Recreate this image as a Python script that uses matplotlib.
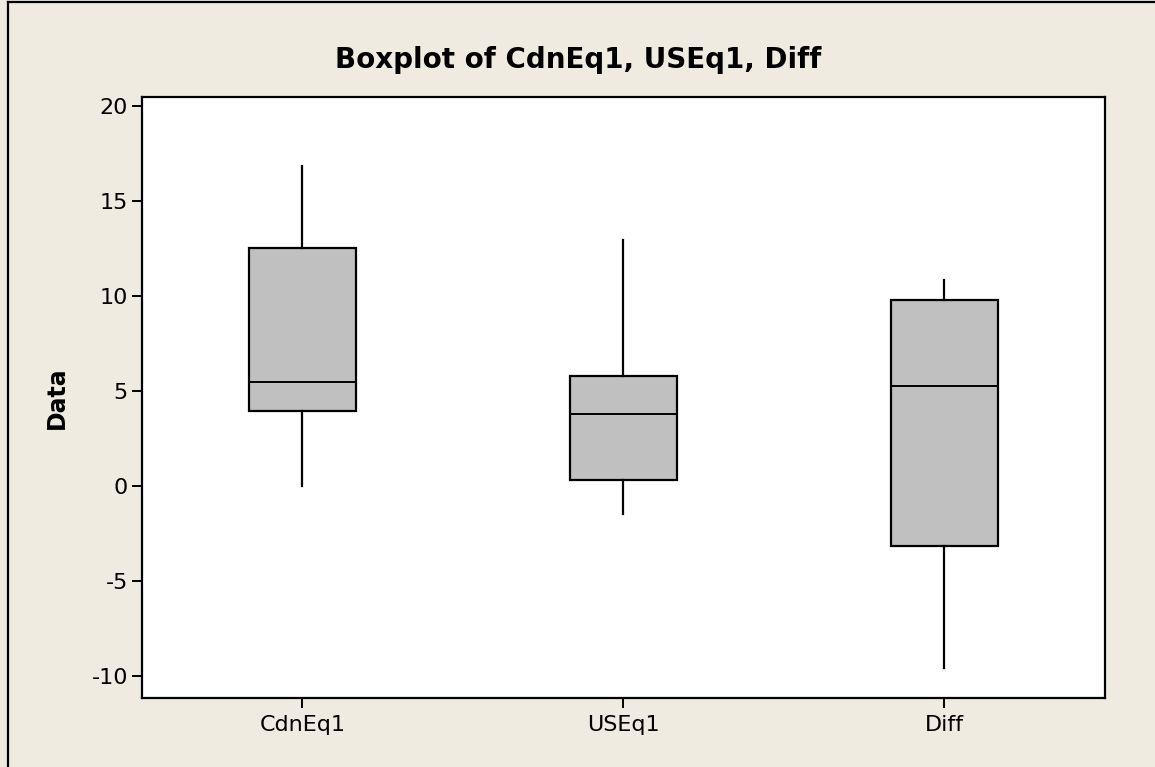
import matplotlib
matplotlib.use('Agg')
import matplotlib.pyplot as plt
from matplotlib.lines import Line2D

# box summary values
labels = ['CdnEq1', 'USEq1', 'Diff']
whisker_low = [0.0, -1.5, -9.6]
q1 = [3.95, 0.3, -3.15]
median = [5.45, 3.8, 5.25]
q3 = [12.5, 5.8, 9.8]
whisker_high = [16.85, 12.95, 10.85]

yticks = [-10, -5, 0, 5, 10, 15, 20]

BG = '#EFEBE1'
BOX = '#C0C0C0'

plt.rcParams['font.family'] = 'DejaVu Sans'

fig = plt.figure(figsize=(11.55, 7.67), dpi=100, facecolor=BG)
ax = fig.add_axes([0.1229, 0.09, 0.8338, 0.7835])
ax.set_facecolor('white')

stats = []
for i, name in enumerate(labels):
    stats.append({
        'label': name,
        'whislo': whisker_low[i],
        'q1': q1[i],
        'med': median[i],
        'q3': q3[i],
        'whishi': whisker_high[i],
        'fliers': [],
    })

ax.bxp(
    stats,
    positions=[1, 2, 3],
    widths=0.336,
    showcaps=False,
    showfliers=False,
    patch_artist=True,
    boxprops=dict(facecolor=BOX, edgecolor='black', linewidth=1.6),
    medianprops=dict(color='black', linewidth=1.4),
    whiskerprops=dict(color='black', linewidth=1.6),
)

ax.set_xlim(0.5, 3.5)
ax.set_ylim(-11.16, 20.47)
ax.set_yticks(yticks)
ax.set_yticklabels([str(v) for v in yticks])

ax.tick_params(axis='both', direction='out', length=7, width=1.4,
               labelsize=16, colors='black')
ax.tick_params(axis='y', pad=3)
ax.tick_params(axis='x', pad=5)

for sp in ax.spines.values():
    sp.set_linewidth(1.6)
    sp.set_color('black')

ax.set_ylabel('Data', fontsize=17, fontweight='bold', labelpad=16)
fig.text(0.5005, 0.922, 'Boxplot of CdnEq1, USEq1, Diff',
         ha='center', va='center', fontsize=20, fontweight='bold')

# outer frame (only left and top edges are visible in the original crop)
fig.add_artist(Line2D([0.0065, 0.0065], [0.0, 0.997], transform=fig.transFigure,
                      color='black', linewidth=1.6))
fig.add_artist(Line2D([0.0065, 1.0], [0.997, 0.997], transform=fig.transFigure,
                      color='black', linewidth=1.6))

fig.savefig('out.png', dpi=100, facecolor=BG)
plt.close(fig)
